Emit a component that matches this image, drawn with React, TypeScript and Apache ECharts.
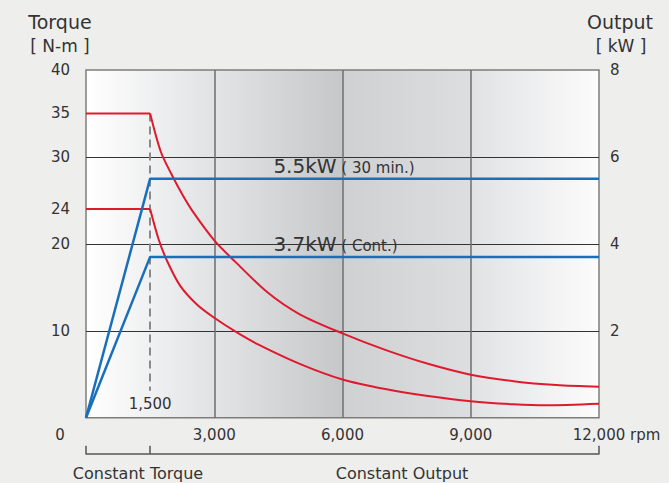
import React, { useEffect, useRef } from 'react';
import * as echarts from 'echarts';

// ---- data ----
const speedTicks = [0, 3000, 6000, 9000, 12000];
const torqueLabels = [10, 20, 24, 30, 35, 40];
const outputLabels = [2, 4, 6, 8];
const rangeTicks = [0, 1500, 12000];
const baseSpeed = 1500;

const torque30Flat: number[][] = [[0, 35], [1500, 35]];
const torque30Curve: number[][] = [
  [1500, 35], [1750, 30.6], [2000, 28.0], [2250, 25.7], [2500, 23.7], [3000, 20.4],
  [3500, 17.9], [4250, 14.4], [5000, 11.9], [6000, 9.7], [7000, 7.8], [8000, 6.2],
  [9000, 4.95], [10000, 4.2], [11000, 3.75], [12000, 3.55],
];
const torqueContFlat: number[][] = [[0, 24], [1500, 24]];
const torqueContCurve: number[][] = [
  [1500, 24], [1700, 20.5], [1900, 18.0], [2200, 15.2], [2600, 13.0], [3000, 11.5],
  [3500, 9.9], [4000, 8.5], [5000, 6.2], [6000, 4.4], [7000, 3.3], [8000, 2.5],
  [9000, 1.9], [10000, 1.55], [10750, 1.42], [12000, 1.6],
];
const output30: number[][] = [[0, 0], [1500, 5.5], [12000, 5.5]];
const outputCont: number[][] = [[0, 0], [1500, 3.7], [12000, 3.7]];

const FONT = '"DejaVu Sans", "Noto Sans", sans-serif';
const TXT = '#333333';
const RED = '#e01a2e';
const BLUE = '#1a6fbb';

export default function App() {
  const ref = useRef<HTMLDivElement>(null);
  useEffect(() => {
    if (!ref.current) return;
    const chart = echarts.init(ref.current, undefined, { renderer: 'svg' });
    const bg = new echarts.graphic.LinearGradient(0, 0, 1, 0, [
      { offset: 0, color: '#ffffff' },
      { offset: 0.25, color: '#e1e2e4' },
      { offset: 0.25, color: '#e3e4e6' },
      { offset: 0.5, color: '#c6c7c9' },
      { offset: 0.5, color: '#cfd0d2' },
      { offset: 0.75, color: '#dddee0' },
      { offset: 0.75, color: '#e1e2e4' },
      { offset: 1, color: '#fcfcfc' },
    ]);
    const lineSeries = (name: string, data: number[][], color: string, width: number, yAxisIndex: number, smooth: boolean, extra: any = {}) => ({
      name, type: 'line', data, xAxisIndex: 0, yAxisIndex,
      showSymbol: false, symbol: 'none', smooth: smooth ? 0.3 : false,
      lineStyle: { color, width }, itemStyle: { color }, z: 5, silent: true,
      ...extra,
    });
    const kwLabel = (x: number, y: number, main: string, sub: string) => ({
      symbol: 'rect', symbolSize: 1, silent: true,
      itemStyle: { color: 'rgba(0,0,0,0)' },
      data: [{
        coord: [x, y],
        label: {
          show: true, position: [0, -12], align: 'left', verticalAlign: 'middle',
          formatter: `{a|${main}}{b| ${sub}}`,
          rich: {
            a: { fontSize: 20, fontFamily: FONT, color: TXT, lineHeight: 22 },
            b: { fontSize: 15, fontFamily: FONT, color: TXT, lineHeight: 22, padding: [3, 0, 0, 0] },
          },
        },
      }],
    });
    chart.setOption({
      animation: false,
      backgroundColor: 'transparent',
      textStyle: { fontFamily: FONT },
      grid: {
        left: 86, right: 70, top: 70, bottom: 65.3,
        show: true, backgroundColor: bg, borderColor: '#7d7d7d', borderWidth: 1.5,
      },
      xAxis: [
        {
          type: 'value', min: 0, max: 12000, interval: 3000,
          axisLine: { show: false }, axisTick: { show: false },
          splitLine: { show: true, showMinLine: false, showMaxLine: false, lineStyle: { color: '#6e6e6e', width: 1.5 } },
          axisLabel: {
            margin: 10, fontSize: 15, fontFamily: FONT, color: TXT,
            customValues: speedTicks,
            formatter: (v: number) => {
              if (v === 0) return '{z|0}';
              if (v === 12000) return '{p|}{n|12,000}{u| rpm}';
              return v.toLocaleString('en-US');
            },
            rich: {
              z: { fontSize: 15, fontFamily: FONT, color: TXT, padding: [0, 52, 0, 0] },
              p: { width: 35 },
              n: { fontSize: 15, fontFamily: FONT, color: TXT },
              u: { fontSize: 15, fontFamily: FONT, color: TXT, width: 35 },
            },
          },
        },
        {
          type: 'value', min: 0, max: 12000, position: 'bottom', offset: 36,
          axisLine: { show: true, onZero: false, lineStyle: { color: '#555555', width: 1.5 } },
          axisTick: { show: true, inside: true, length: 8, customValues: rangeTicks, lineStyle: { color: '#555555', width: 1.5 } },
          axisLabel: { show: false },
          splitLine: { show: false },
        },
      ],
      yAxis: [
        {
          type: 'value', min: 0, max: 40, interval: 10, position: 'left',
          axisLine: { show: false }, axisTick: { show: false },
          splitLine: { show: true, showMinLine: false, showMaxLine: false, lineStyle: { color: '#333333', width: 1 } },
          axisLabel: { margin: 16, fontSize: 15, fontFamily: FONT, color: TXT, customValues: torqueLabels },
        },
        {
          type: 'value', min: 0, max: 8, interval: 2, position: 'right',
          axisLine: { show: false }, axisTick: { show: false }, splitLine: { show: false },
          axisLabel: { margin: 11, fontSize: 15, fontFamily: FONT, color: TXT, customValues: outputLabels },
        },
      ],
      series: [
        lineSeries('Torque 30 min (flat)', torque30Flat, RED, 2, 0, false, {
          markLine: {
            silent: true, symbol: 'none',
            lineStyle: { color: '#8a8a8a', width: 2, type: [8, 5] },
            label: { show: true, position: 'end', distance: 6, formatter: baseSpeed.toLocaleString('en-US'), fontSize: 15, fontFamily: FONT, color: TXT },
            data: [[{ coord: [baseSpeed, 35] }, { coord: [baseSpeed, 3.1] }]],
          },
        }),
        lineSeries('Torque 30 min', torque30Curve, RED, 2, 0, true),
        lineSeries('Torque cont. (flat)', torqueContFlat, RED, 2, 0, false),
        lineSeries('Torque cont.', torqueContCurve, RED, 2, 0, true),
        lineSeries('Output 30 min', output30, BLUE, 2.5, 1, false, { markPoint: kwLabel(4395, 5.5, '5.5kW', '( 30 min.)') }),
        lineSeries('Output cont.', outputCont, BLUE, 2.5, 1, false, { markPoint: kwLabel(4395, 3.7, '3.7kW', '( Cont.)') }),
      ],
      graphic: [
        { type: 'text', x: 60, y: 22, style: { text: 'Torque', align: 'center', verticalAlign: 'middle', fontSize: 19, fontFamily: FONT, fill: TXT } },
        { type: 'text', x: 60, y: 46, style: { text: '[ N-m ]', align: 'center', verticalAlign: 'middle', fontSize: 17, fontFamily: FONT, fill: TXT } },
        { type: 'text', x: 620, y: 22, style: { text: 'Output', align: 'center', verticalAlign: 'middle', fontSize: 19, fontFamily: FONT, fill: TXT } },
        { type: 'text', x: 621, y: 46, style: { text: '[ kW ]', align: 'center', verticalAlign: 'middle', fontSize: 17, fontFamily: FONT, fill: TXT } },
        { type: 'text', x: 138, y: 473, style: { text: 'Constant Torque', align: 'center', verticalAlign: 'middle', fontSize: 16, fontFamily: FONT, fill: TXT } },
        { type: 'text', x: 402, y: 473, style: { text: 'Constant Output', align: 'center', verticalAlign: 'middle', fontSize: 16, fontFamily: FONT, fill: TXT } },
      ],
    });
    return () => chart.dispose();
  }, []);
  return (
    <div style={{ position: 'fixed', left: 0, top: 0, width: 669, height: 483, background: '#eeeeec' }}>
      <div ref={ref} style={{ width: 669, height: 483 }} />
    </div>
  );
}
